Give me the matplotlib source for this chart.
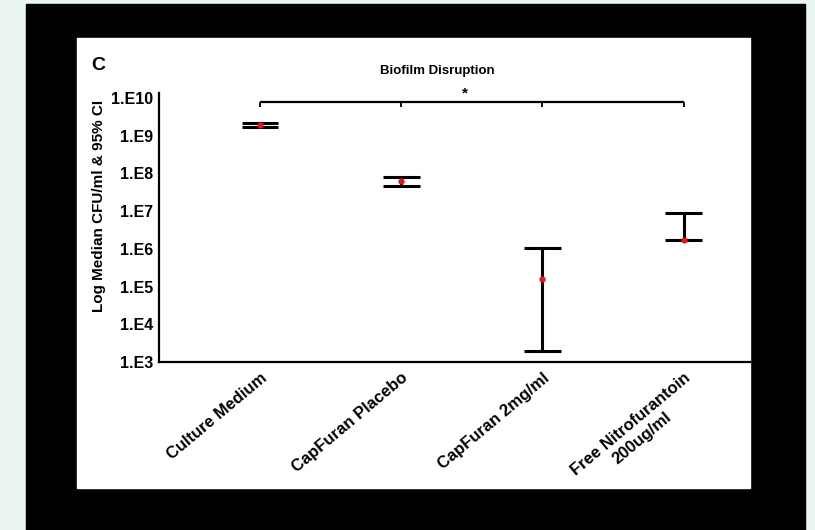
import numpy as np
import matplotlib.pyplot as plt
from matplotlib.patches import Rectangle

# ==================== data ====================
groups = ['Culture Medium', 'CapFuran Placebo', 'CapFuran 2mg/ml',
          'Free Nitrofurantoin\n200ug/ml']
median = [1.9e9, 6.3e7, 1.6e5, 1.7e6]
ci_low = [1.7e9, 4.7e7, 1.9e3, 1.7e6]
ci_high = [2.2e9, 8.0e7, 1.05e6, 9.0e6]
ytick_vals = [1e3, 1e4, 1e5, 1e6, 1e7, 1e8, 1e9, 1e10]
ytick_labels = ['1.E3', '1.E4', '1.E5', '1.E6', '1.E7', '1.E8', '1.E9', '1.E10']
bracket_y = 8.0e9

W, H = 815, 530
plt.rcParams['font.family'] = ['Liberation Sans', 'DejaVu Sans']
plt.rcParams['font.weight'] = 'bold'

fig = plt.figure(figsize=(W / 100, H / 100), dpi=100, facecolor='#eaf5f1')


def px_rect(x0, y0, x1, y1, color):
    # rectangle in pixel coords (origin top-left)
    fig.patches.append(Rectangle((x0 / W, 1 - y1 / H), (x1 - x0) / W, (y1 - y0) / H,
                                 transform=fig.transFigure, color=color, zorder=-5))


px_rect(26, 4, 805, 530, 'black')
px_rect(77, 38, 750, 488, 'white')

# axes placement (pixels)
ax_l, ax_r, ax_t, ax_b = 159, 750, 93, 362
ax = fig.add_axes([ax_l / W, 1 - ax_b / H, (ax_r - ax_l) / W, (ax_b - ax_t) / H])
ax.set_facecolor('none')
ax.set_zorder(2)

x = np.arange(len(groups))
cap = 0.13

ax.vlines(x, ci_low, ci_high, color='black', lw=2.2, zorder=2)
ax.hlines(ci_low, x - cap, x + cap, color='black', lw=2.2, zorder=2)
ax.hlines(ci_high, x - cap, x + cap, color='black', lw=2.2, zorder=2)
ax.plot(x, median, 'o', color='#e8141c', ms=4.5, mec='none', zorder=3)

# significance bracket
ax.hlines(bracket_y, x[0], x[-1], color='black', lw=1.6, clip_on=False)
ax.vlines(x, bracket_y * 0.7, bracket_y, color='black', lw=1.3, clip_on=False)
ax.text((x[1] + x[2]) / 2 - 0.05, bracket_y * 1.1, '*', ha='center', va='bottom',
        fontsize=11, fontweight='bold')

ax.set_yscale('log')
ax.set_ylim(1e3, 10 ** 10.13)
ax.set_xlim(-0.715, 3.47)
ax.set_yticks(ytick_vals)
ax.set_yticklabels(ytick_labels, fontsize=11.5)
ax.minorticks_off()
ax.tick_params(axis='y', length=0, pad=4)
ax.tick_params(axis='x', length=0, pad=6)
ax.set_xticks(x)
ax.set_xticklabels(groups, rotation=40, ha='right', rotation_mode='anchor',
                   fontsize=12, multialignment='center')

for side in ['top', 'right']:
    ax.spines[side].set_visible(False)
for side in ['left', 'bottom']:
    ax.spines[side].set_linewidth(1.6)

ax.set_ylabel('Log Median CFU/ml & 95% CI', fontsize=11, fontweight='bold', va='center')
ax.yaxis.set_label_coords((99 - ax_l) / (ax_r - ax_l), (ax_b - 206) / (ax_b - ax_t))

fig.text(437 / W, 1 - 71 / H, 'Biofilm Disruption', ha='center', va='center',
         fontsize=9.5, fontweight='bold')
fig.text(91 / W, 1 - 66 / H, 'C', ha='left', va='center', fontsize=14, fontweight='bold')

fig.savefig('out.png', dpi=100, facecolor=fig.get_facecolor())
